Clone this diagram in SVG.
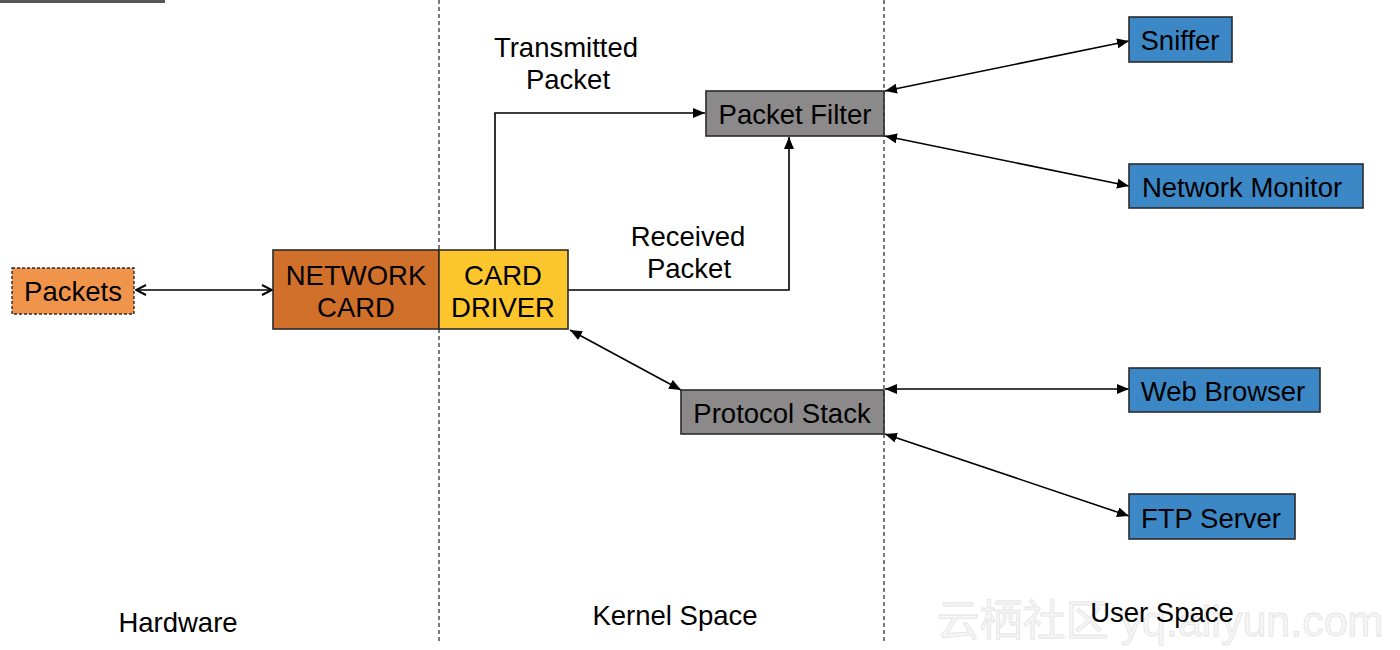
<svg xmlns="http://www.w3.org/2000/svg" width="1400" height="650" viewBox="0 0 1400 650">
<defs>
<marker id="tri" viewBox="0 0 12 10" refX="12" refY="5" markerWidth="12" markerHeight="10" markerUnits="userSpaceOnUse" orient="auto-start-reverse">
<path d="M0,0 L12,5 L0,10 Z" fill="#000"/>
</marker>
<marker id="open" viewBox="0 0 12 12" refX="11" refY="6" markerWidth="12" markerHeight="12" markerUnits="userSpaceOnUse" orient="auto-start-reverse">
<path d="M1,1 L11,6 L1,11" fill="none" stroke="#000" stroke-width="2"/>
</marker>
</defs>
<style>
.box{stroke:#2b2b2b;stroke-width:1.6}
.lbl{font-family:"Liberation Sans",Arial,sans-serif;font-size:27.5px;fill:#000;text-anchor:middle}
.con{fill:none;stroke:#000;stroke-width:1.6}
.div{stroke:#222;stroke-width:1.2;stroke-dasharray:4 3}
.grey{fill:#8b8989}
.blue{fill:#3c88c6}
</style>
<rect width="1400" height="650" fill="#fff"/>
<rect x="0" y="0" width="165" height="3" fill="#555"/>
<g id="dividers">
<line class="div" x1="439" y1="0" x2="439" y2="642"/>
<line class="div" x1="884" y1="0" x2="884" y2="642"/>
</g>
<text x="1160" y="636" style="font-family:'Liberation Sans','Noto Sans CJK SC',sans-serif;font-size:43px;fill:#f6f6f6;stroke:#e4e4e4;stroke-width:0.8;text-anchor:middle">云栖社区 yq.aliyun.com</text>
<g id="connectors">
<line class="con" x1="136" y1="290" x2="272" y2="290" marker-start="url(#open)" marker-end="url(#open)"/>
<polyline class="con" points="495,250 495,113 705,113" marker-end="url(#tri)"/>
<polyline class="con" points="568,290 789,290 789,137" marker-end="url(#tri)"/>
<line class="con" x1="570" y1="330" x2="681" y2="390" marker-start="url(#tri)" marker-end="url(#tri)"/>
<line class="con" x1="885" y1="91" x2="1129" y2="41" marker-start="url(#tri)" marker-end="url(#tri)"/>
<line class="con" x1="885" y1="136" x2="1129" y2="186" marker-start="url(#tri)" marker-end="url(#tri)"/>
<line class="con" x1="885" y1="389" x2="1129" y2="389" marker-start="url(#tri)" marker-end="url(#tri)"/>
<line class="con" x1="885" y1="434" x2="1129" y2="516" marker-start="url(#tri)" marker-end="url(#tri)"/>
</g>
<g id="packets">
<rect x="12" y="268" width="122" height="46" fill="#f0934b" stroke="#2b2b2b" stroke-width="1.4" stroke-dasharray="3 2"/>
<text class="lbl" x="73" y="301">Packets</text>
</g>
<g id="network-card">
<rect class="box" x="273" y="250" width="166" height="79" fill="#d1702a"/>
<text class="lbl" x="356" y="285">NETWORK</text>
<text class="lbl" x="356" y="317">CARD</text>
</g>
<g id="card-driver">
<rect class="box" x="439" y="250" width="129" height="79" fill="#fec62d"/>
<text class="lbl" x="503" y="285">CARD</text>
<text class="lbl" x="503" y="317">DRIVER</text>
</g>
<g id="packet-filter">
<rect class="box grey" x="706" y="91" width="178" height="45"/>
<text class="lbl" x="795" y="124">Packet Filter</text>
</g>
<g id="protocol-stack">
<rect class="box grey" x="681" y="390" width="203" height="44"/>
<text class="lbl" x="782" y="423">Protocol Stack</text>
</g>
<g id="sniffer">
<rect class="box blue" x="1129" y="17" width="103" height="45"/>
<text class="lbl" x="1180" y="50">Sniffer</text>
</g>
<g id="network-monitor">
<rect class="box blue" x="1129" y="164" width="234" height="44"/>
<text class="lbl" x="1242" y="197">Network Monitor</text>
</g>
<g id="web-browser">
<rect class="box blue" x="1129" y="368" width="191" height="44"/>
<text class="lbl" x="1223" y="401">Web Browser</text>
</g>
<g id="ftp-server">
<rect class="box blue" x="1129" y="494" width="166" height="45"/>
<text class="lbl" x="1211" y="528">FTP Server</text>
</g>
<g id="labels">
<text class="lbl" x="566" y="57">Transmitted</text>
<text class="lbl" x="568" y="89">Packet</text>
<text class="lbl" x="688" y="246">Received</text>
<text class="lbl" x="689" y="278">Packet</text>
<text class="lbl" x="178" y="632">Hardware</text>
<text class="lbl" x="675" y="625">Kernel Space</text>
<text class="lbl" x="1162" y="622">User Space</text>
</g>
</svg>
